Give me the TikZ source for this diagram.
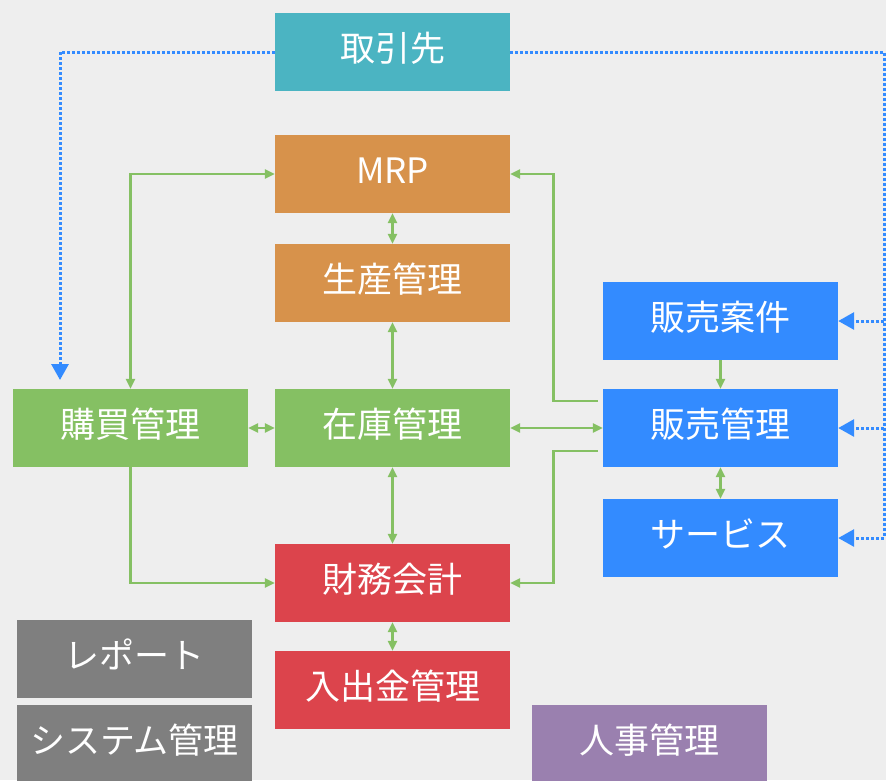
\documentclass[tikz,border=0pt]{standalone}
\usepackage{fontspec}
\setmainfont{Noto Sans CJK JP}
\usetikzlibrary{calc,arrows.meta}
\definecolor{bgGray}{HTML}{EEEEEE}
\definecolor{cTeal}{HTML}{4BB4C2}
\definecolor{cOrange}{HTML}{D7924B}
\definecolor{cGreen}{HTML}{85C063}
\definecolor{cRed}{HTML}{DC444C}
\definecolor{cBlue}{HTML}{338BFF}
\definecolor{cGray}{HTML}{7F7F7F}
\definecolor{cPurple}{HTML}{9A80AF}
\tikzset{
  modbox/.style={minimum width=235pt, minimum height=78pt, inner sep=0pt, text=white,
    text height=30pt, text depth=12pt, font=\fontsize{35}{40}\selectfont},
  greenline/.style={line width=2.8pt, color=cGreen, >={Triangle[length=10pt,width=9pt]}},
  dotline/.style={line width=3pt, color=cBlue, dash pattern=on 3pt off 2pt,
    >={Triangle[length=16pt,width=17pt]}}
}

\begin{document}
\begin{tikzpicture}[x=1pt, y=-1pt]
	%%%%% START %%%%%
	\fill[bgGray] (0, 0) rectangle (886, 780);
	\useasboundingbox (0, 0) rectangle (886, 780);

	\node[modbox, fill=cTeal] (torihiki) at (392.5, 52) {取引先};

	\node[modbox, fill=cOrange] (mrp) at (392.5, 174) {MRP};
	\node[modbox, fill=cOrange] (seisan) at (392.5, 283) {生産管理};

	\node[modbox, fill=cGreen] (koubai) at (130.5, 428) {購買管理};
	\node[modbox, fill=cGreen] (zaiko) at (392.5, 428) {在庫管理};

	\node[modbox, fill=cRed] (zaimu) at (392.5, 583) {財務会計};
	\node[modbox, fill=cRed] (nyukin) at (392.5, 690) {入出金管理};

	\node[modbox, fill=cBlue] (anken) at (720.5, 321) {販売案件};
	\node[modbox, fill=cBlue] (hanbai) at (720.5, 428) {販売管理};
	\node[modbox, fill=cBlue] (service) at (720.5, 538) {サービス};

	\node[modbox, fill=cGray] (report) at (134.5, 659) {レポート};
	\node[modbox, fill=cGray] (system) at (134.5, 744) {システム管理};
	\node[modbox, fill=cPurple] (jinji) at (649.5, 744) {人事管理};

	% green links
	\draw[greenline, <->] (mrp) -- (seisan);
	\draw[greenline, <->] (seisan) -- (zaiko);
	\draw[greenline, <->] (zaiko) -- (zaimu);
	\draw[greenline, <->] (zaimu) -- (nyukin);
	\draw[greenline, <->] (koubai) -- (zaiko);
	\draw[greenline, <->] (zaiko) -- (hanbai);
	\draw[greenline, ->] (anken) -- (hanbai);
	\draw[greenline, <->] (hanbai) -- (service);
	\draw[greenline, <->] (koubai.north) |- (mrp.west);
	\draw[greenline, ->] (koubai.south) |- (zaimu.west);

	\coordinate (hanbaiA) at ($(hanbai.west)+(-5, -27)$);
	\coordinate (hanbaiB) at ($(hanbai.west)+(-5, 23)$);
	\draw[greenline, ->] (hanbaiA) -- ++(-44, 0) |- (mrp.east);
	\draw[greenline, ->] (hanbaiB) -- ++(-44, 0) |- (zaimu.east);

	% dotted links
	\coordinate (leftEnd) at (60, 380);
	\coordinate (rightTop) at (884, 52);
	\draw[dotline, ->] (torihiki.west) -| (leftEnd);
	\draw[dotline, ->] (torihiki.east) -- (rightTop) |- (service.east);
	\draw[dotline, ->] (rightTop |- anken.east) -- (anken.east);
	\draw[dotline, ->] (rightTop |- hanbai.east) -- (hanbai.east);
	%%%%% END %%%%%
\end{tikzpicture}
\end{document}
